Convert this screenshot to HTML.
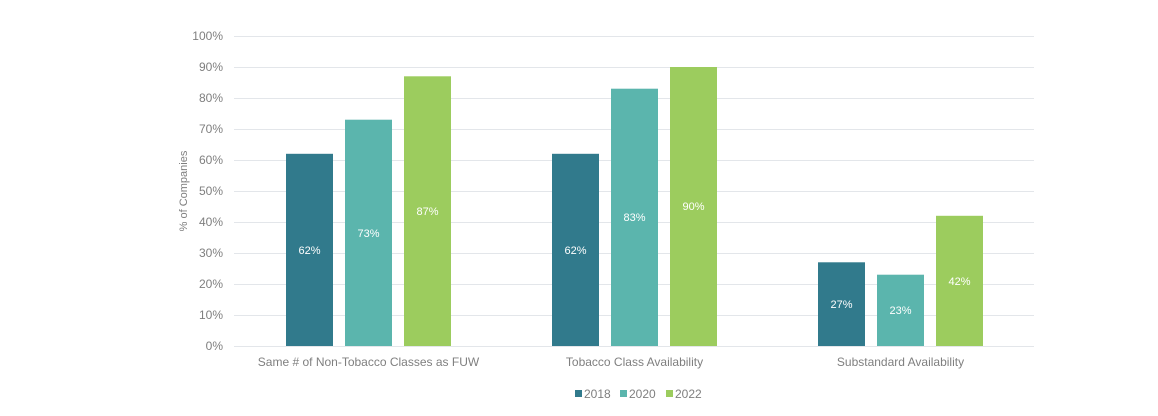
<!DOCTYPE html>
<html><head><style>
body{margin:0;background:#fff;}
svg{display:block;font-family:"Liberation Sans",sans-serif;}
</style></head><body>
<svg width="1158" height="416" viewBox="0 0 1158 416">
<g stroke="#e3e6ea" stroke-width="1">
<line x1="234" x2="1034" y1="36.5" y2="36.5"/><line x1="234" x2="1034" y1="67.5" y2="67.5"/><line x1="234" x2="1034" y1="98.5" y2="98.5"/><line x1="234" x2="1034" y1="129.5" y2="129.5"/><line x1="234" x2="1034" y1="160.5" y2="160.5"/><line x1="234" x2="1034" y1="191.5" y2="191.5"/><line x1="234" x2="1034" y1="222.5" y2="222.5"/><line x1="234" x2="1034" y1="253.5" y2="253.5"/><line x1="234" x2="1034" y1="284.5" y2="284.5"/><line x1="234" x2="1034" y1="315.5" y2="315.5"/><line x1="234" x2="1034" y1="346.5" y2="346.5"/>
</g>
<g font-size="12" fill="#7f7f7f" text-anchor="end">
<text x="223" y="40">100%</text><text x="223" y="71">90%</text><text x="223" y="102">80%</text><text x="223" y="133">70%</text><text x="223" y="164">60%</text><text x="223" y="195">50%</text><text x="223" y="226">40%</text><text x="223" y="257">30%</text><text x="223" y="288">20%</text><text x="223" y="319">10%</text><text x="223" y="350">0%</text>
</g>
<text transform="translate(187,191) rotate(-90)" font-size="11" fill="#7f7f7f" text-anchor="middle">% of Companies</text>
<g>
<rect x="286" y="153.8" width="47" height="192.2" fill="#317a8c"/>
<rect x="345" y="119.7" width="47" height="226.3" fill="#5bb5ad"/>
<rect x="404" y="76.3" width="47" height="269.7" fill="#9ccc5e"/>
<rect x="552" y="153.8" width="47" height="192.2" fill="#317a8c"/>
<rect x="611" y="88.7" width="47" height="257.3" fill="#5bb5ad"/>
<rect x="670" y="67" width="47" height="279" fill="#9ccc5e"/>
<rect x="818" y="262.3" width="47" height="83.7" fill="#317a8c"/>
<rect x="877" y="274.7" width="47" height="71.3" fill="#5bb5ad"/>
<rect x="936" y="215.8" width="47" height="130.2" fill="#9ccc5e"/>
</g>
<g font-size="11" fill="#fff" text-anchor="middle">
<text x="309.5" y="254">62%</text><text x="368.5" y="237">73%</text><text x="427.5" y="215">87%</text>
<text x="575.5" y="254">62%</text><text x="634.5" y="221">83%</text><text x="693.5" y="210">90%</text>
<text x="841.5" y="308">27%</text><text x="900.5" y="314">23%</text><text x="959.5" y="285">42%</text>
</g>
<g font-size="12" fill="#7f7f7f" text-anchor="middle">
<text x="368.5" y="366">Same # of Non-Tobacco Classes as FUW</text>
<text x="634.5" y="366">Tobacco Class Availability</text>
<text x="900.5" y="366">Substandard Availability</text>
</g>
<g font-size="12" fill="#7f7f7f">
<rect x="575" y="390" width="7" height="7" fill="#317a8c"/><text x="584" y="398">2018</text>
<rect x="620" y="390" width="7" height="7" fill="#5bb5ad"/><text x="629" y="398">2020</text>
<rect x="666" y="390" width="7" height="7" fill="#9ccc5e"/><text x="675" y="398">2022</text>
</g>
</svg>
</body></html>
